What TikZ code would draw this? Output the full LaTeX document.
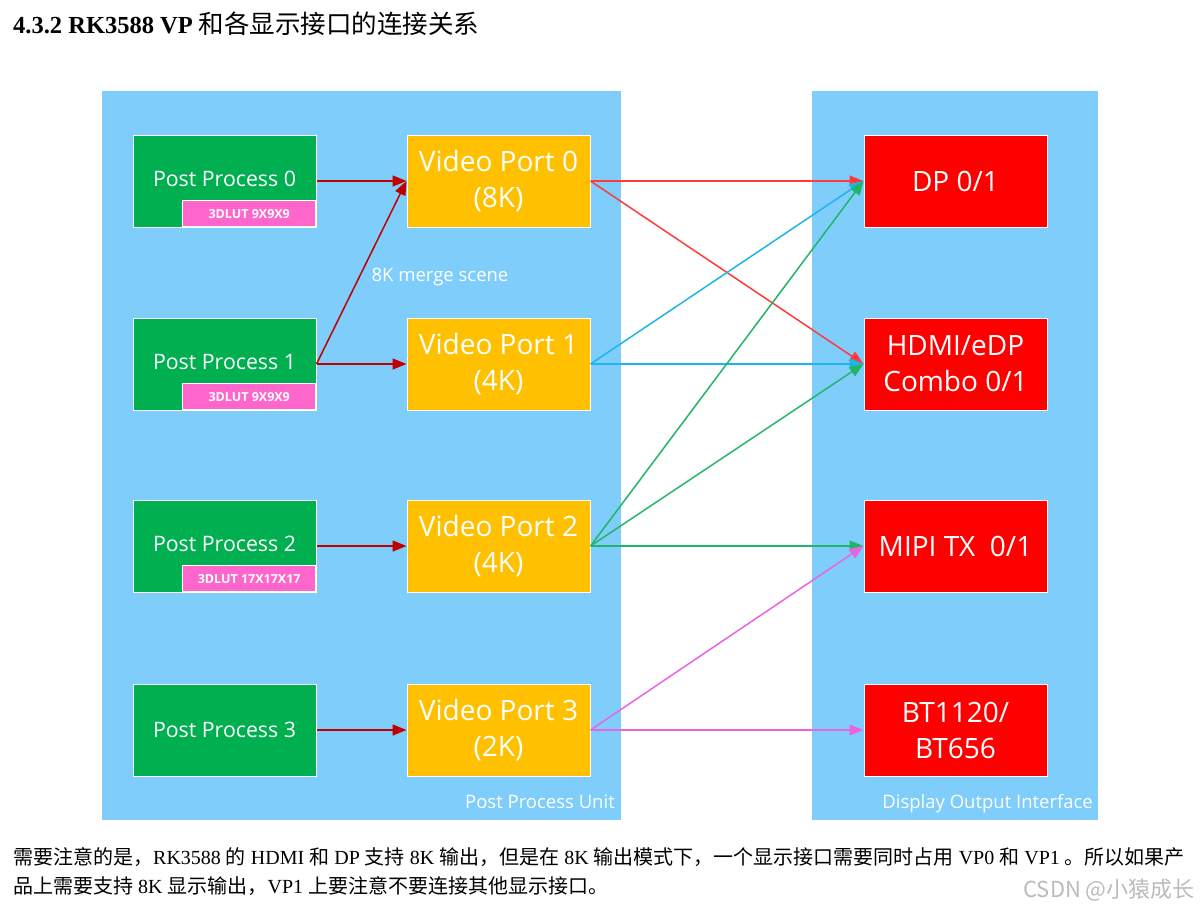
\documentclass[tikz,border=0pt]{standalone}
\usepackage{fontspec}
\setmainfont{Liberation Serif}
\newfontfamily\cjk{Noto Sans CJK SC}
\newfontfamily\ui{Open Sans}
\usetikzlibrary{arrows.meta}
\definecolor{panel}{HTML}{7FCDFA}
\definecolor{ppgreen}{HTML}{00B050}
\definecolor{vpyellow}{HTML}{FFC000}
\definecolor{outred}{HTML}{FF0000}
\definecolor{lutpink}{HTML}{FF66CC}
\definecolor{darkred}{HTML}{C00000}
\definecolor{lred}{HTML}{FF3B3B}
\definecolor{lblue}{HTML}{1CB5EE}
\definecolor{lgreen}{HTML}{22B567}
\definecolor{lmag}{HTML}{E865E0}
\definecolor{wm}{HTML}{BBBBBB}
\tikzset{
  box/.style={draw=white, line width=1pt, minimum width=183pt, minimum height=92pt,
    inner sep=0pt, text=white, align=center},
  ppbox/.style={box, fill=ppgreen, font=\ui\fontsize{21.3}{24}\selectfont},
  vpbox/.style={box, fill=vpyellow, font=\ui\fontsize{28}{36}\selectfont},
  outbox/.style={box, fill=outred, font=\ui\fontsize{28}{36}\selectfont},
  lut/.style={fill=lutpink, draw=white, line width=0.6pt, minimum width=133pt, minimum height=26pt,
    inner sep=0pt, text=white, font=\ui\fontsize{12.5}{14}\selectfont, anchor=south east},
  paneltext/.style={text=white, font=\ui\fontsize{18.5}{22}\selectfont, inner sep=0pt},
  conn/.style={line width=1.5pt, -{Triangle[length=14pt,width=11pt]}},
  body/.style={anchor=base west, inner sep=0pt, font=\fontsize{20}{24}\selectfont}
}
\begin{document}
\begin{tikzpicture}[x=1pt,y=-1pt]
\useasboundingbox (0,0) rectangle (1200,911);
\fill[white] (0,0) rectangle (1200,911);
% title
\node[anchor=base west, inner sep=0pt, font=\fontsize{24.5}{28}\selectfont] (title) at (13,33)
  {\textbf{4.3.2 RK3588 VP} {\cjk\fontsize{25.5}{28}\selectfont 和各显示接口的连接关系}};
% panels
\fill[panel] (102,91) rectangle (621,820);
\fill[panel] (812,91) rectangle (1098,820);
\node[paneltext, anchor=base east] (ppu) at (615,808) {Post Process Unit};
\node[paneltext, anchor=base east] (doi) at (1093,808) {Display Output Interface};
% post process
\node[ppbox] (pp0) at (224.5,181) {\raisebox{4pt}{Post Process 0}};
\node[ppbox] (pp1) at (224.5,364) {\raisebox{4pt}{Post Process 1}};
\node[ppbox] (pp2) at (224.5,546) {\raisebox{4pt}{Post Process 2}};
\node[ppbox] (pp3) at (224.5,730) {Post Process 3};
\node[lut] (lut0) at (316,227) {\bfseries 3DLUT 9X9X9};
\node[lut] (lut1) at (316,410) {\bfseries 3DLUT 9X9X9};
\node[lut] (lut2) at (316,592) {\bfseries 3DLUT 17X17X17};
% video ports
\node[vpbox] (vp0) at (498.5,181) {Video Port 0\\(8K)};
\node[vpbox] (vp1) at (498.5,364) {Video Port 1\\(4K)};
\node[vpbox] (vp2) at (498.5,546) {Video Port 2\\(4K)};
\node[vpbox] (vp3) at (498.5,730) {Video Port 3\\(2K)};
% outputs
\node[outbox] (dp) at (955.5,181) {DP 0/1};
\node[outbox] (hdmi) at (955.5,364) {HDMI/eDP\\Combo 0/1};
\node[outbox] (mipi) at (955.5,546) {MIPI TX~~0/1};
\node[outbox] (bt) at (955.5,730) {BT1120/\\BT656};
\node[paneltext] (merge) at (440,277) {8K merge scene};
% connectors
\draw[conn, darkred] (pp0.east) -- (vp0.west);
\draw[conn, darkred] (pp1.east) -- (vp0.west);
\draw[conn, darkred] (pp1.east) -- (vp1.west);
\draw[conn, darkred] (pp2.east) -- (vp2.west);
\draw[conn, darkred] (pp3.east) -- (vp3.west);
\draw[conn, lred] (vp0.east) -- (dp.west);
\draw[conn, lred] (vp0.east) -- (hdmi.west);
\draw[conn, lblue] (vp1.east) -- (dp.west);
\draw[conn, lblue] (vp1.east) -- (hdmi.west);
\draw[conn, lgreen] (vp2.east) -- (dp.west);
\draw[conn, lgreen] (vp2.east) -- (hdmi.west);
\draw[conn, lgreen] (vp2.east) -- (mipi.west);
\draw[conn, lmag] (vp3.east) -- (mipi.west);
\draw[conn, lmag] (vp3.east) -- (bt.west);
% body text
\node[body] (line1) at (13,864) {{\cjk 需要注意的是，}RK3588 {\cjk 的} HDMI {\cjk 和} DP {\cjk 支持} 8K {\cjk 输出，但是在} 8K {\cjk 输出模式下，一个显示接口需要同时占用} VP0 {\cjk 和} VP1 {\cjk 。所以如果产}};
\node[body] (line2) at (13,893) {{\cjk 品上需要支持} 8K {\cjk 显示输出，}VP1 {\cjk 上要注意不要连接其他显示接口。}};
\node[anchor=base east, inner sep=0pt, text=wm, font=\cjk\fontsize{22}{24}\selectfont] (mark) at (1195,897) {CSDN @小猿成长};
\end{tikzpicture}
\end{document}
